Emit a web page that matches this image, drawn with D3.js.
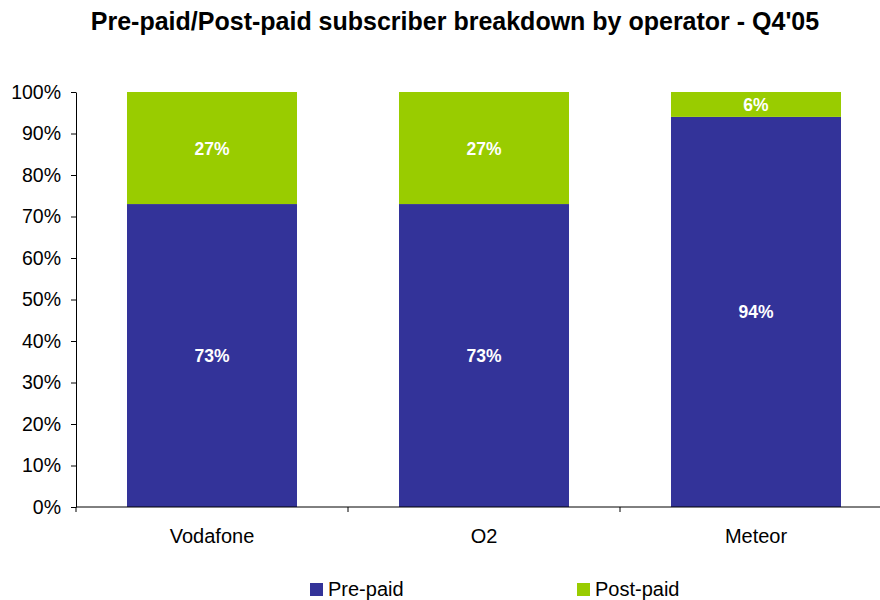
<!DOCTYPE html>
<html>
<head>
<meta charset="utf-8">
<script src="https://cdn.jsdelivr.net/npm/d3@7"></script>
<style>
  body { margin: 0; background: #fff; }
  svg text { font-family: Arial, "Liberation Sans", sans-serif; }
</style>
</head>
<body>
<svg id="chart" width="880" height="600"></svg>
<script>
// Pre-paid / post-paid split per operator, Q4'05 (share of subscribers, %)
var operators = ['Vodafone', 'O2', 'Meteor']
var prePaid   = [73, 73, 94]
var postPaid  = [27, 27, 6]
var seriesNames = ['Pre-paid', 'Post-paid']
var yTicks = [0, 10, 20, 30, 40, 50, 60, 70, 80, 90, 100]

var colors = {'Pre-paid': '#333399', 'Post-paid': '#99cc00'}

var svg = d3.select('#chart')
var margin = {top: 92, left: 76, bottom: 93}
var height = 600 - margin.top - margin.bottom
var bandW = 272

var x = d3.scaleBand().domain(operators).range([0, bandW * operators.length]).paddingInner(0.375).paddingOuter(0.1875)
var y = d3.scaleLinear().domain([0, 100]).range([height, 0])

var g = svg.append('g').attr('transform', 'translate(' + margin.left + ',' + margin.top + ')')

// stacked rows
var rows = operators.map(function(op, i){ return {op: op, 'Pre-paid': prePaid[i], 'Post-paid': postPaid[i]} })
var stack = d3.stack().keys(seriesNames)(rows)

stack.forEach(function(layer){
  var lg = g.append('g')
  lg.selectAll('rect').data(layer).join('rect')
    .attr('x', function(d){ return x(d.data.op) })
    .attr('width', x.bandwidth())
    .attr('y', function(d){ return y(d[1]) })
    .attr('height', function(d){ return y(d[0]) - y(d[1]) })
    .attr('fill', colors[layer.key])
  lg.selectAll('text').data(layer).join('text')
    .attr('x', function(d){ return x(d.data.op) + x.bandwidth() / 2 })
    .attr('y', function(d){ return (y(d[0]) + y(d[1])) / 2 + 6.5 })
    .attr('text-anchor', 'middle')
    .attr('font-size', 17.5)
    .attr('font-weight', 'bold')
    .attr('fill', '#fff')
    .text(function(d){ return (d[1] - d[0]) + '%' })
})

// y axis
var yAxis = g.append('g').call(d3.axisLeft(y).tickValues(yTicks).tickSize(5).tickSizeOuter(0).tickFormat(function(d){ return d + '%' }))
yAxis.select('.domain').attr('stroke', '#000')
yAxis.selectAll('text').attr('font-size', 19.5).attr('fill', '#000').attr('x', -15).attr('font-family', 'Arial, "Liberation Sans", sans-serif')

// x axis with tick marks between categories
var xAxis = g.append('g').attr('transform', 'translate(0,' + height + ')')
xAxis.append('line').attr('x1', 0).attr('x2', bandW * operators.length).attr('stroke', '#000')
xAxis.selectAll('line.tk').data(d3.range(operators.length + 1)).join('line').attr('class', 'tk')
  .attr('x1', function(i){ return i * bandW }).attr('x2', function(i){ return i * bandW })
  .attr('y1', 0).attr('y2', 5).attr('stroke', '#000')
xAxis.selectAll('text').data(operators).join('text')
  .attr('x', function(d){ return x(d) + x.bandwidth() / 2 })
  .attr('y', 36)
  .attr('text-anchor', 'middle')
  .attr('font-size', 20)
  .text(function(d){ return d })

// title
svg.append('text').text("Pre-paid/Post-paid subscriber breakdown by operator - Q4'05")
  .attr('x', 455).attr('y', 30).attr('text-anchor', 'middle')
  .attr('font-size', 25).attr('font-weight', 'bold')

// legend
var legendX = [310, 577]
var leg = svg.selectAll('g.leg').data(seriesNames).join('g').attr('class', 'leg')
  .attr('transform', function(d, i){ return 'translate(' + legendX[i] + ',583)' })
leg.append('rect').attr('width', 13).attr('height', 13).attr('fill', function(d){ return colors[d] })
leg.append('text').attr('x', 18).attr('y', 13).attr('font-size', 20).text(function(d){ return d })
</script>
</body>
</html>
